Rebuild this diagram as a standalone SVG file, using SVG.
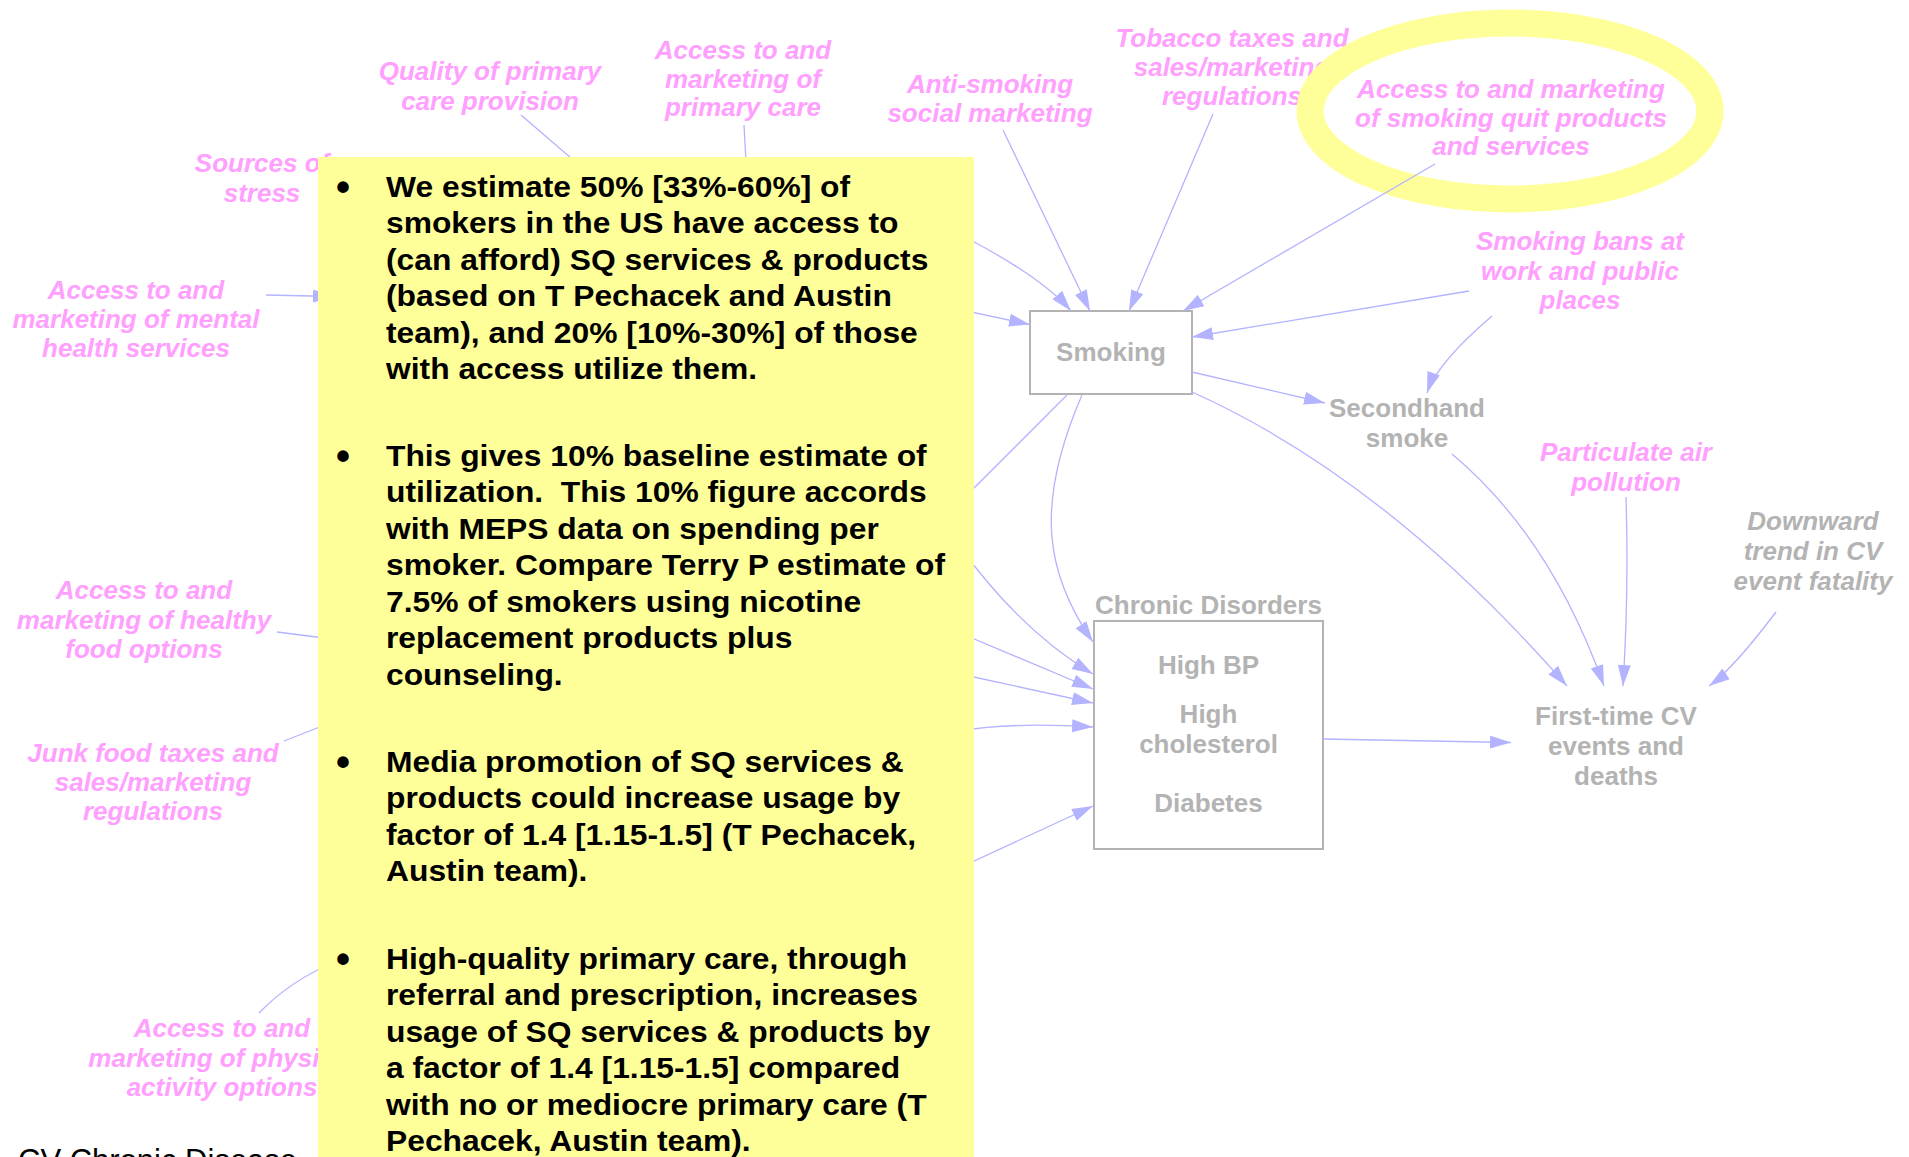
<svg xmlns="http://www.w3.org/2000/svg" width="1909" height="1157" viewBox="0 0 1909 1157">
  <style>
    .lbl { font-family: "Liberation Sans", Arial, sans-serif; font-weight: bold; font-style: italic; font-size: 26px; fill: #FFA0FF; text-anchor: middle; }
    .var { font-family: "Liberation Sans", Arial, sans-serif; font-weight: bold; font-size: 26px; fill: #B3B3B3; text-anchor: middle; }
    .vari { font-family: "Liberation Sans", Arial, sans-serif; font-weight: bold; font-style: italic; font-size: 26px; fill: #B3B3B3; text-anchor: middle; }
    .box { fill: #FFFFFF; stroke: #B3B3B3; stroke-width: 2; }
    .cn { fill: none; stroke: #B3B3FF; stroke-width: 1.3; }
    .arr { marker-end: url(#ah); }
    .note { font-family: "Liberation Sans", Arial, sans-serif; font-weight: bold; font-size: 30px; fill: #000000; }
    .dot { font-family: "Liberation Sans", Arial, sans-serif; font-weight: bold; font-size: 40px; fill: #000000; }
    .foot { font-family: "Liberation Sans", Arial, sans-serif; font-size: 31px; fill: #000000; }
  </style>
  <defs>
    <marker id="ah" markerUnits="userSpaceOnUse" markerWidth="22" markerHeight="14" refX="21" refY="6.5" orient="auto">
      <path d="M0,0 L21,6.5 L0,13 z" fill="#B3B3FF"/>
    </marker>
  </defs>

  <rect x="0" y="0" width="1909" height="1157" fill="#FFFFFF"/>

  <!-- exogenous factors (pink) -->
  <g id="quality-primary-care">
    <text class="lbl" x="490" y="80">Quality of primary</text>
    <text class="lbl" x="490" y="109.5">care provision</text>
  </g>
  <g id="access-primary-care">
    <text class="lbl" x="743" y="59">Access to and</text>
    <text class="lbl" x="743" y="87.5">marketing of</text>
    <text class="lbl" x="743" y="116">primary care</text>
  </g>
  <g id="anti-smoking">
    <text class="lbl" x="990" y="93">Anti-smoking</text>
    <text class="lbl" x="990" y="122">social marketing</text>
  </g>
  <g id="tobacco-taxes">
    <text class="lbl" x="1232" y="47">Tobacco taxes and</text>
    <text class="lbl" x="1232" y="76">sales/marketing</text>
    <text class="lbl" x="1232" y="105">regulations</text>
  </g>
  <g id="sources-of-stress">
    <text class="lbl" x="262" y="172">Sources of</text>
    <text class="lbl" x="262" y="202">stress</text>
  </g>
  <g id="mental-health-services">
    <text class="lbl" x="136" y="299">Access to and</text>
    <text class="lbl" x="136" y="328">marketing of mental</text>
    <text class="lbl" x="136" y="357">health services</text>
  </g>
  <g id="healthy-food">
    <text class="lbl" x="144" y="599">Access to and</text>
    <text class="lbl" x="144" y="628.5">marketing of healthy</text>
    <text class="lbl" x="144" y="658">food options</text>
  </g>
  <g id="junk-food-taxes">
    <text class="lbl" x="153" y="762">Junk food taxes and</text>
    <text class="lbl" x="153" y="791">sales/marketing</text>
    <text class="lbl" x="153" y="820">regulations</text>
  </g>
  <g id="physical-activity">
    <text class="lbl" x="222" y="1037">Access to and</text>
    <text class="lbl" x="222" y="1066.5">marketing of physical</text>
    <text class="lbl" x="222" y="1096">activity options</text>
  </g>
  <g id="smoking-bans">
    <text class="lbl" x="1580" y="250">Smoking bans at</text>
    <text class="lbl" x="1580" y="279.5">work and public</text>
    <text class="lbl" x="1580" y="309">places</text>
  </g>
  <g id="air-pollution">
    <text class="lbl" x="1626" y="461">Particulate air</text>
    <text class="lbl" x="1626" y="491">pollution</text>
  </g>

  <!-- model variables (gray) -->
  <g id="downward-trend">
    <text class="vari" x="1813" y="530">Downward</text>
    <text class="vari" x="1813" y="560">trend in CV</text>
    <text class="vari" x="1813" y="590">event fatality</text>
  </g>
  <g id="smoking">
    <rect class="box" x="1030" y="311" width="162" height="83"/>
    <text class="var" x="1111" y="361">Smoking</text>
  </g>
  <g id="secondhand-smoke">
    <text class="var" x="1407" y="417">Secondhand</text>
    <text class="var" x="1407" y="447">smoke</text>
  </g>
  <g id="chronic-disorders">
    <text class="var" x="1208.5" y="614">Chronic Disorders</text>
    <rect class="box" x="1094" y="621" width="229" height="228"/>
    <text class="var" x="1208.5" y="674">High BP</text>
    <text class="var" x="1208.5" y="723">High</text>
    <text class="var" x="1208.5" y="753">cholesterol</text>
    <text class="var" x="1208.5" y="812">Diabetes</text>
  </g>
  <g id="first-time-cv">
    <text class="var" x="1616" y="725">First-time CV</text>
    <text class="var" x="1616" y="755">events and</text>
    <text class="var" x="1616" y="785">deaths</text>
  </g>

  <!-- highlight ring around the quit-services factor -->
  <ellipse id="highlight-ring" cx="1510" cy="111" rx="200" ry="88" fill="none" stroke="#FFFF99" stroke-width="27"/>

  <g id="quit-products">
    <text class="lbl" x="1511" y="98">Access to and marketing</text>
    <text class="lbl" x="1511" y="127">of smoking quit products</text>
    <text class="lbl" x="1511" y="155">and services</text>
  </g>

  <!-- causal links -->
  <g id="connectors">
    <path class="cn" d="M521,115 L600,183"/>
    <path class="cn" d="M744,125 L747,180"/>
    <path class="cn arr" d="M1003,130 L1090,311"/>
    <path class="cn arr" d="M1213,114 L1129,311"/>
    <path class="cn arr" d="M1435,164 L1183,311"/>
    <path class="cn arr" d="M955,232 Q1040,275 1071,311"/>
    <path class="cn arr" d="M960,309.7 L1030,324.5"/>
    <path class="cn arr" d="M1469,291 L1192,337"/>
    <path class="cn arr" d="M1492,316 Q1437,363 1427,393"/>
    <path class="cn arr" d="M1192,372 L1325,403"/>
    <path class="cn arr" d="M1192,392 Q1386,479 1567,686"/>
    <path class="cn arr" d="M1452,454 Q1551,537 1604,686"/>
    <path class="cn arr" d="M1626,497 Q1629,590 1623,686"/>
    <path class="cn arr" d="M1776,612 Q1733,669 1709,686"/>
    <path class="cn arr" d="M1323,739 L1511,742.5"/>
    <path class="cn arr" d="M1082,395 C1033,508 1047,576 1093,642"/>
    <path class="cn" d="M1067,395 L955,507"/>
    <path class="cn arr" d="M960,547 Q1022,632 1093,674"/>
    <path class="cn arr" d="M960,633 L1093,689"/>
    <path class="cn arr" d="M960,674 L1093,703"/>
    <path class="cn arr" d="M960,731 Q1010,722 1093,727"/>
    <path class="cn arr" d="M960,867.5 L1093,806"/>
    <path class="cn arr" d="M266,295 L334,296.5"/>
    <path class="cn" d="M277,632 L340,640"/>
    <path class="cn" d="M284,741 L340,719"/>
    <path class="cn" d="M259,1013 Q291,980 335,962"/>
  </g>

  <!-- footer title, clipped by the page edge -->
  <text id="footer" class="foot" x="18" y="1171">CV Chronic Disease</text>

  <!-- estimate note -->
  <g id="estimate-note">
    <rect x="318" y="157" width="656" height="1000" fill="#FFFF99"/>
    <text class="dot" x="336" y="201">•</text>
    <text class="dot" x="336" y="470">•</text>
    <text class="dot" x="336" y="776">•</text>
    <text class="dot" x="336" y="973">•</text>
    <g transform="translate(386 0) scale(1.06 1)">
      <text class="note" x="0" y="197">We estimate 50% [33%-60%] of</text>
      <text class="note" x="0" y="233.5">smokers in the US have access to</text>
      <text class="note" x="0" y="270">(can afford) SQ services &amp; products</text>
      <text class="note" x="0" y="306.5">(based on T Pechacek and Austin</text>
      <text class="note" x="0" y="343">team), and 20% [10%-30%] of those</text>
      <text class="note" x="0" y="379.5">with access utilize them.</text>

      <text class="note" x="0" y="466">This gives 10% baseline estimate of</text>
      <text class="note" x="0" y="502.5">utilization.&#160; This 10% figure accords</text>
      <text class="note" x="0" y="539">with MEPS data on spending per</text>
      <text class="note" x="0" y="575.5">smoker. Compare Terry P estimate of</text>
      <text class="note" x="0" y="612">7.5% of smokers using nicotine</text>
      <text class="note" x="0" y="648.5">replacement products plus</text>
      <text class="note" x="0" y="685">counseling.</text>

      <text class="note" x="0" y="772">Media promotion of SQ services &amp;</text>
      <text class="note" x="0" y="808.5">products could increase usage by</text>
      <text class="note" x="0" y="845">factor of 1.4 [1.15-1.5] (T Pechacek,</text>
      <text class="note" x="0" y="881.5">Austin team).</text>

      <text class="note" x="0" y="969">High-quality primary care, through</text>
      <text class="note" x="0" y="1005.5">referral and prescription, increases</text>
      <text class="note" x="0" y="1042">usage of SQ services &amp; products by</text>
      <text class="note" x="0" y="1078.5">a factor of 1.4 [1.15-1.5] compared</text>
      <text class="note" x="0" y="1115">with no or mediocre primary care (T</text>
      <text class="note" x="0" y="1151.5">Pechacek, Austin team).</text>
    </g>
  </g>
</svg>
